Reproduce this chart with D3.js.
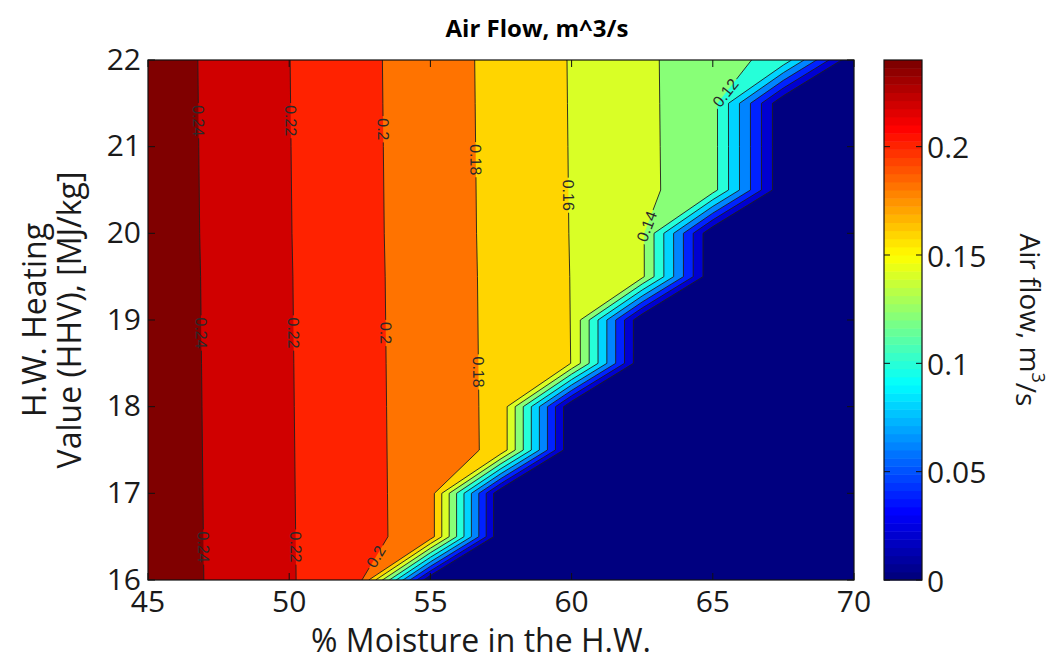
<!DOCTYPE html>
<html><head><meta charset="utf-8">
<script src="https://cdn.jsdelivr.net/npm/d3@7"></script>
<style>
body{margin:0;background:#fff;}
svg{display:block;}
text{font-family:"Open Sans","Liberation Sans",sans-serif;fill:#1a1a1a;}
</style></head><body>
<svg id="chart" width="1055" height="660"></svg>
<script>
// ---- data (grid) ----
const moisture = [45, 47.5, 50, 52.5, 55, 57.5, 60, 62.5, 65, 67.5, 70];
const hhv = [16, 16.5, 17, 17.5, 18, 18.5, 19, 19.5, 20, 20.5, 21, 21.5, 22];
// air flow (m^3/s); one row per HHV value (ascending), one column per moisture value
const airflow = [
  [0.2521, 0.2368, 0.2215, 0.2062, 0, 0, 0, 0, 0, 0, 0],
  [0.2520, 0.2367, 0.2214, 0.2061, 0.1908, 0, 0, 0, 0, 0, 0],
  [0.2519, 0.2366, 0.2213, 0.2060, 0.1907, 0, 0, 0, 0, 0, 0],
  [0.2518, 0.2365, 0.2212, 0.2059, 0.1906, 0.1753, 0, 0, 0, 0, 0],
  [0.2517, 0.2364, 0.2211, 0.2058, 0.1905, 0.1752, 0, 0, 0, 0, 0],
  [0.2516, 0.2363, 0.2210, 0.2057, 0.1904, 0.1751, 0.1598, 0, 0, 0, 0],
  [0.2515, 0.2362, 0.2209, 0.2056, 0.1903, 0.1750, 0.1597, 0, 0, 0, 0],
  [0.2514, 0.2361, 0.2208, 0.2055, 0.1902, 0.1749, 0.1596, 0.1443, 0, 0, 0],
  [0.2512, 0.2359, 0.2206, 0.2053, 0.1900, 0.1747, 0.1594, 0.1441, 0, 0, 0],
  [0.2511, 0.2358, 0.2205, 0.2052, 0.1899, 0.1746, 0.1593, 0.1440, 0.1287, 0, 0],
  [0.2510, 0.2357, 0.2204, 0.2051, 0.1898, 0.1745, 0.1592, 0.1439, 0.1286, 0, 0],
  [0.2509, 0.2356, 0.2203, 0.2050, 0.1897, 0.1744, 0.1591, 0.1438, 0.1285, 0, 0],
  [0.2508, 0.2355, 0.2202, 0.2049, 0.1896, 0.1743, 0.1590, 0.1437, 0.1284, 0.1131, 0]
];
const levels = [0, 0.02, 0.04, 0.06, 0.08, 0.10, 0.12, 0.14, 0.16, 0.18, 0.20, 0.22, 0.24];
const xTicks = [45, 50, 55, 60, 65, 70];
const yTicks = [16, 17, 18, 19, 20, 21, 22];
const cbTicks = [0, 0.05, 0.1, 0.15, 0.2];
const colorRange = [0, 0.24];
// contour labels: level and HHV at which the label sits
const labelLevels = [0.24, 0.24, 0.24, 0.22, 0.22, 0.22, 0.2, 0.2, 0.2, 0.18, 0.18, 0.16, 0.14, 0.12];
const labelHHV    = [21.3, 18.85, 16.38, 21.3, 18.85, 16.38, 21.2, 18.85, 16.27, 20.85, 18.4, 20.44, 20.08, 21.62];

const title = "Air Flow, m^3/s";
const xTitle = "% Moisture in the H.W.";
const yTitle = ["H.W. Heating", "Value (HHV), [MJ/kg]"];

// ---- layout ----
const W = 1055, H = 660;
const P = {l: 148, r: 854, t: 60, b: 580};
const CB = {l: 884, r: 922};
const x = d3.scaleLinear().domain([moisture[0], moisture[moisture.length-1]]).range([P.l, P.r]);
const y = d3.scaleLinear().domain([hhv[0], hhv[hhv.length-1]]).range([P.b, P.t]);
const cy = d3.scaleLinear().domain(colorRange).range([P.b, P.t]);

function jet(t){
  const c = v => Math.max(0, Math.min(1, v));
  return d3.rgb(255*c(1.5-Math.abs(4*t-3)), 255*c(1.5-Math.abs(4*t-2)), 255*c(1.5-Math.abs(4*t-1))).formatHex();
}
function cmap(v){
  let i = Math.floor((v-colorRange[0])/(colorRange[1]-colorRange[0])*64);
  i = Math.max(0, Math.min(63, i));
  return jet(i/63);
}

const svg = d3.select('#chart');
const defs = svg.append('defs');
defs.append('clipPath').attr('id','plotClip').append('rect')
  .attr('x',P.l).attr('y',P.t).attr('width',P.r-P.l).attr('height',P.b-P.t);

const nx = moisture.length, ny = hhv.length;
const sx = moisture[1]-moisture[0], sy = hhv[1]-hhv[0];
const contours = d3.contours().size([nx, ny]).thresholds(levels)(airflow.flat());
const proj = d3.geoTransform({point(px, py){
  this.stream.point(x(moisture[0] + (px-0.5)*sx), y(hhv[0] + (py-0.5)*sy));
}});
const path = d3.geoPath(proj);

const plot = svg.append('g').attr('clip-path','url(#plotClip)');
plot.append('g').selectAll('path').data(contours).join('path')
  .attr('d', path).attr('fill', d => cmap(d.value)).attr('stroke','none');

// label positions
function crossing(row, L){
  const v = airflow[row];
  for (let i = 0; i < v.length-1; i++){
    if (v[i] >= L && v[i+1] < L) return moisture[i] + (v[i]-L)/(v[i]-v[i+1])*(moisture[i+1]-moisture[i]);
  }
  return null;
}
const labels = labelLevels.map((L, k) => {
  const h = labelHHV[k];
  let r0 = Math.floor((h-hhv[0])/sy); r0 = Math.min(r0, ny-2);
  const r1 = r0+1;
  const c0 = crossing(r0, L), c1 = crossing(r1, L);
  const f = (h-hhv[r0])/sy;
  const xm = c0 + (c1-c0)*f;
  const p0 = [x(c0), y(hhv[r0])], p1 = [x(c1), y(hhv[r1])];
  let a = Math.atan2(p1[1]-p0[1], p1[0]-p0[0])*180/Math.PI;
  if (a > 90) a -= 180;
  if (a <= -90) a += 180;
  return {L, px: x(xm), py: y(h), a, text: String(+L.toFixed(2))};
});

const mask = defs.append('mask').attr('id','lblMask').attr('maskUnits','userSpaceOnUse')
  .attr('x',0).attr('y',0).attr('width',W).attr('height',H);
mask.append('rect').attr('x',0).attr('y',0).attr('width',W).attr('height',H).attr('fill','#fff');

plot.append('g').attr('mask','url(#lblMask)').selectAll('path')
  .data(contours.filter(d => d.value > 0)).join('path')
  .attr('d', path).attr('fill','none').attr('stroke','#1e1e1e').attr('stroke-width',0.9)
  .attr('stroke-linejoin','round');

const lblG = svg.append('g');
labels.forEach(l => {
  const t = lblG.append('text')
    .attr('transform', `translate(${l.px},${l.py}) rotate(${l.a})`)
    .attr('text-anchor','middle').attr('dominant-baseline','central')
    .style('font-family','"Liberation Sans",Arial,sans-serif')
    .style('font-size','16px').style('fill','#2a2a2a').text(l.text);
  const w = t.node().getComputedTextLength() + 4;
  mask.append('rect').attr('x',-w/2).attr('y',-8).attr('width',w).attr('height',16)
    .attr('transform', `translate(${l.px},${l.py}) rotate(${l.a})`).attr('fill','#000');
});

// axes box and ticks
const ax = svg.append('g');
ax.append('rect').attr('x',P.l).attr('y',P.t).attr('width',P.r-P.l).attr('height',P.b-P.t)
  .attr('fill','none').attr('stroke','#111').attr('stroke-width',1.2);
const tl = 7;
xTicks.forEach(v => {
  ax.append('line').attr('x1',x(v)).attr('x2',x(v)).attr('y1',P.b).attr('y2',P.b-tl).attr('stroke','#111');
  ax.append('line').attr('x1',x(v)).attr('x2',x(v)).attr('y1',P.t).attr('y2',P.t+tl).attr('stroke','#111');
  ax.append('text').attr('x',x(v)).attr('y',612).attr('text-anchor','middle')
    .style('font-size','30px').text(v);
});
yTicks.forEach(v => {
  ax.append('line').attr('x1',P.l).attr('x2',P.l+tl).attr('y1',y(v)).attr('y2',y(v)).attr('stroke','#111');
  ax.append('line').attr('x1',P.r).attr('x2',P.r-tl).attr('y1',y(v)).attr('y2',y(v)).attr('stroke','#111');
  ax.append('text').attr('x',141).attr('y',y(v)-2).attr('text-anchor','end').attr('dominant-baseline','central')
    .style('font-size','30px').text(v);
});
ax.append('text').attr('x',481).attr('y',652).attr('text-anchor','middle')
  .style('font-size','32px').text(xTitle);
yTitle.forEach((s,i) => {
  ax.append('text').attr('transform',`translate(${33+i*35},${(P.t+P.b)/2}) rotate(-90)`)
    .attr('text-anchor','middle').attr('dominant-baseline','central')
    .style('font-size','32px').text(s);
});
svg.append('text').attr('x',537).attr('y',37).attr('text-anchor','middle')
  .style('font-size','24px').style('font-weight','bold').style('fill','#000').text(title);

// colorbar
const cb = svg.append('g');
const nC = 64;
const cStep = (colorRange[1]-colorRange[0])/nC;
cb.selectAll('rect.c').data(d3.range(nC)).join('rect').attr('class','c')
  .attr('x',CB.l).attr('width',CB.r-CB.l)
  .attr('y', i => cy(colorRange[0]+(i+1)*cStep)).attr('height', i => cy(colorRange[0]+i*cStep)-cy(colorRange[0]+(i+1)*cStep)+0.5)
  .attr('fill', i => jet(i/(nC-1)));
cb.append('rect').attr('x',CB.l).attr('y',P.t).attr('width',CB.r-CB.l).attr('height',P.b-P.t)
  .attr('fill','none').attr('stroke','#111').attr('stroke-width',1.2);
cbTicks.forEach(v => {
  cb.append('line').attr('x1',CB.l).attr('x2',CB.l+6).attr('y1',cy(v)).attr('y2',cy(v)).attr('stroke','#111');
  cb.append('line').attr('x1',CB.r).attr('x2',CB.r-6).attr('y1',cy(v)).attr('y2',cy(v)).attr('stroke','#111');
  cb.append('text').attr('x',CB.r+5).attr('y',cy(v)).attr('dominant-baseline','central')
    .style('font-size','30px').text(String(v));
});
const cbl = cb.append('text').attr('transform',`translate(1031,${(P.t+P.b)/2}) rotate(90)`)
  .attr('text-anchor','middle').attr('dominant-baseline','central').style('font-size','28px');
cbl.append('tspan').text('Air flow, m');
cbl.append('tspan').attr('dy','-0.45em').style('font-size','18px').text('3');
cbl.append('tspan').attr('dy','0.45em').text('/s');
</script>
</body></html>
